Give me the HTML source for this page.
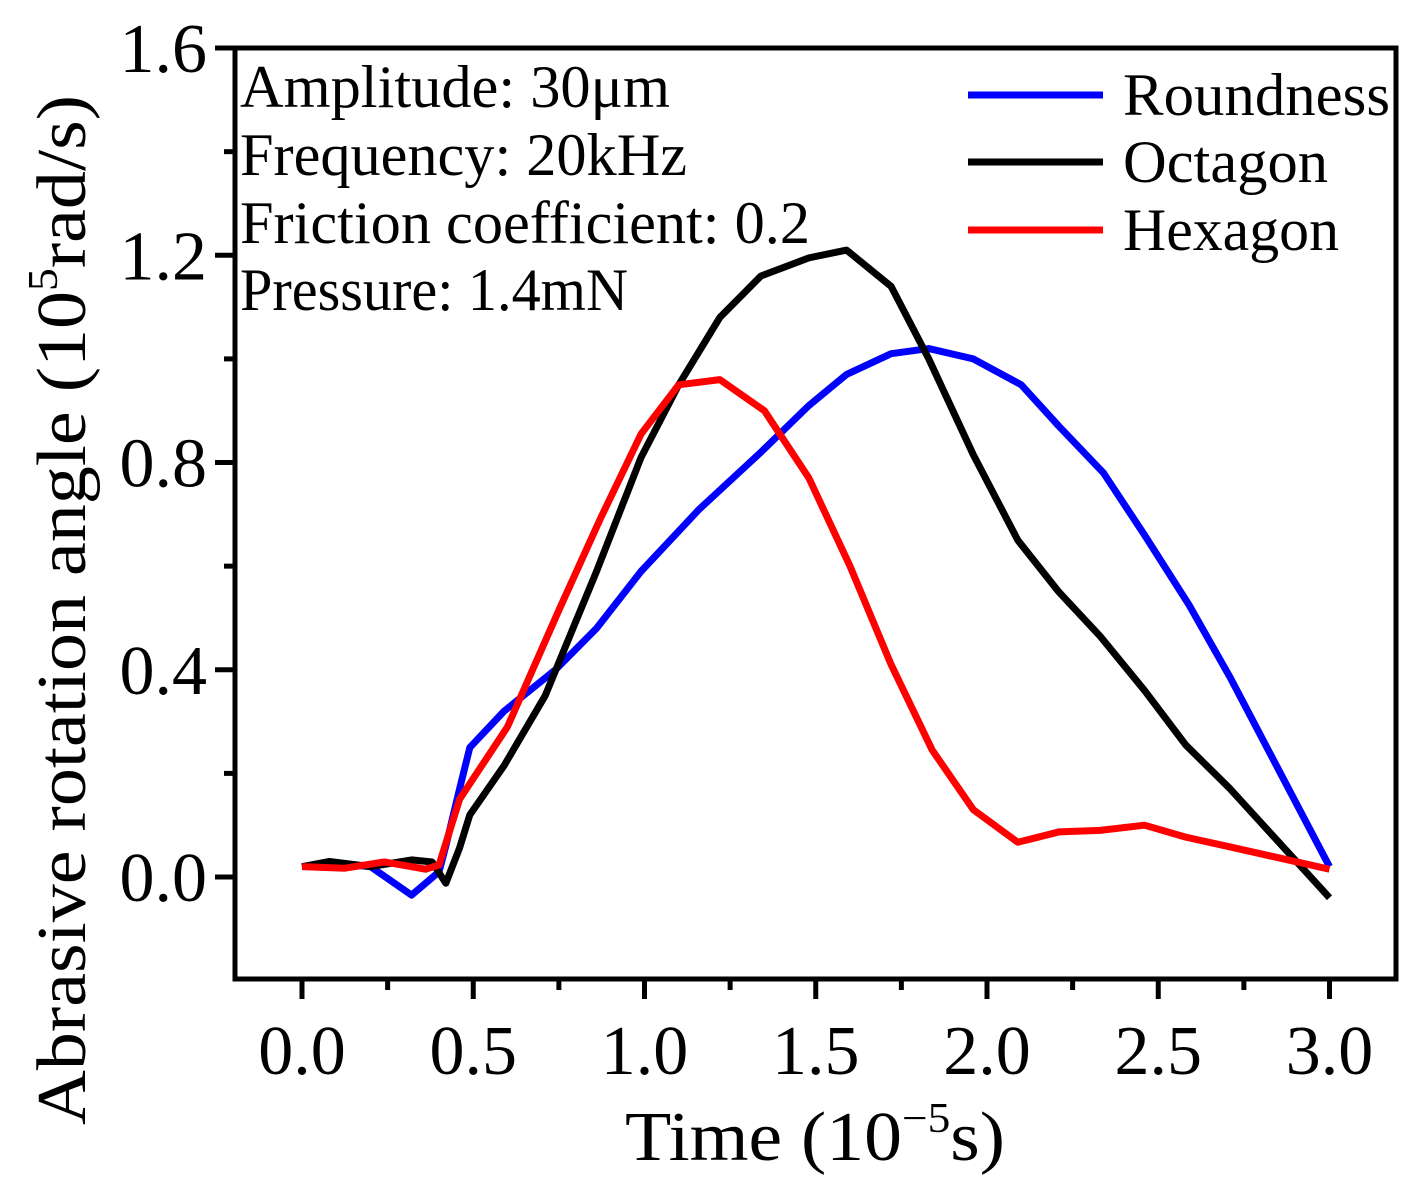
<!DOCTYPE html>
<html><head><meta charset="utf-8"><style>
body{margin:0;background:#fff}
svg, svg text{font-family:"Liberation Serif","Times New Roman",serif}
</style></head><body>
<svg id="chart" width="1424" height="1194" viewBox="0 0 1424 1194" font-family="Liberation Serif, serif">
<g id="marks"></g>
<rect x="235" y="48" width="1161" height="931" fill="none" stroke="#000" stroke-width="5"/>
<g id="axes"></g>
<g font-size="60">
<text x="240" y="107" textLength="430" lengthAdjust="spacingAndGlyphs">Amplitude: 30μm</text>
<text x="240" y="175" textLength="447" lengthAdjust="spacingAndGlyphs">Frequency: 20kHz</text>
<text x="240" y="243" textLength="570" lengthAdjust="spacingAndGlyphs">Friction coefficient: 0.2</text>
<text x="240" y="310" textLength="388" lengthAdjust="spacingAndGlyphs">Pressure: 1.4mN</text>
</g>
<g font-size="60">
<line x1="968" y1="95" x2="1103" y2="95" stroke="#0000ff" stroke-width="7"/>
<text x="1123" y="115" textLength="267" lengthAdjust="spacingAndGlyphs">Roundness</text>
<line x1="968" y1="162" x2="1103" y2="162" stroke="#000" stroke-width="7"/>
<text x="1123" y="182" textLength="205" lengthAdjust="spacingAndGlyphs">Octagon</text>
<line x1="968" y1="230" x2="1103" y2="230" stroke="#ff0000" stroke-width="7"/>
<text x="1123" y="250" textLength="216" lengthAdjust="spacingAndGlyphs">Hexagon</text>
</g>
<text x="815" y="1160" font-size="70" text-anchor="middle" textLength="380" lengthAdjust="spacingAndGlyphs">Time (10<tspan dy="-28" font-size="42">−5</tspan><tspan dy="28">s)</tspan></text>
<text transform="translate(85,610) rotate(-90)" font-size="70" text-anchor="middle" textLength="1030" lengthAdjust="spacingAndGlyphs">Abrasive rotation angle (10<tspan dy="-28" font-size="42">5</tspan><tspan dy="28">rad/s)</tspan></text>
</svg>
<script>
const xTicks=[0,0.5,1.0,1.5,2.0,2.5,3.0];
const xTickLabels=["0.0","0.5","1.0","1.5","2.0","2.5","3.0"];
const yTicks=[0,0.4,0.8,1.2,1.6];
const yTickLabels=["0.0","0.4","0.8","1.2","1.6"];
const roundX=[0,0.08,0.2,0.32,0.4,0.42,0.46,0.49,0.59,0.74,0.86,0.99,1.16,1.34,1.48,1.59,1.72,1.83,1.96,2.10,2.21,2.34,2.46,2.59,2.71,3.0];
const roundY=[0.02,0.027,0.02,-0.035,0.01,0.06,0.17,0.25,0.32,0.40,0.48,0.59,0.71,0.82,0.91,0.97,1.01,1.02,1.0,0.95,0.87,0.78,0.66,0.525,0.385,0.02];
const octX=[0,0.08,0.2,0.32,0.38,0.42,0.46,0.49,0.59,0.71,0.86,0.99,1.1,1.22,1.34,1.48,1.59,1.72,1.83,1.96,2.09,2.21,2.33,2.46,2.58,2.71,3.0];
const octY=[0.02,0.03,0.02,0.033,0.029,-0.012,0.056,0.12,0.215,0.35,0.59,0.81,0.95,1.08,1.16,1.195,1.21,1.14,1.0,0.815,0.65,0.55,0.465,0.36,0.255,0.17,-0.04];
const hexX=[0,0.125,0.24,0.32,0.36,0.40,0.46,0.49,0.6,0.75,0.87,0.99,1.1,1.22,1.35,1.48,1.6,1.72,1.84,1.96,2.09,2.21,2.33,2.46,2.58,2.71,3.0];
const hexY=[0.02,0.017,0.029,0.02,0.015,0.023,0.15,0.18,0.29,0.515,0.69,0.855,0.95,0.96,0.90,0.77,0.60,0.41,0.245,0.13,0.067,0.087,0.09,0.10,0.077,0.058,0.015];

const NS="http://www.w3.org/2000/svg";
const sx=v=>302+v*342.5;
const sy=v=>877-v*518.1;
const marks=document.getElementById('marks');
const axes=document.getElementById('axes');
function series(xs,ys,color,name){
  const p=document.createElementNS(NS,'polyline');
  p.setAttribute('points',xs.map((x,i)=>sx(x)+','+sy(ys[i])).join(' '));
  p.setAttribute('fill','none');p.setAttribute('stroke',color);
  p.setAttribute('stroke-width','7');p.setAttribute('stroke-linejoin','round');
  
  
  marks.appendChild(p);
}
series(roundX,roundY,'#0000ff','roundness-line');
series(octX,octY,'#000000','octagon-line');
series(hexX,hexY,'#ff0000','hexagon-line');
function line(x1,y1,x2,y2){
  const l=document.createElementNS(NS,'line');
  l.setAttribute('x1',x1);l.setAttribute('y1',y1);l.setAttribute('x2',x2);l.setAttribute('y2',y2);
  l.setAttribute('stroke','#000');l.setAttribute('stroke-width','5');
  
  
  axes.appendChild(l);
}
function label(x,y,t,anchor,name){
  const e=document.createElementNS(NS,'text');
  e.setAttribute('x',x);e.setAttribute('y',y);e.setAttribute('font-size','70');
  e.setAttribute('text-anchor',anchor);e.textContent=t;
  
  
  axes.appendChild(e);
}
xTicks.forEach((v,i)=>{line(sx(v),979,sx(v),999);label(sx(v),1074,xTickLabels[i],'middle','x-tick-label');
  if(i<xTicks.length-1){line(sx(v+0.25),979,sx(v+0.25),990);}});
yTicks.forEach((v,i)=>{line(215,sy(v),235,sy(v));label(207,sy(v)+24,yTickLabels[i],'end','y-tick-label');
  if(i<yTicks.length-1){line(224,sy(v+0.2),235,sy(v+0.2));}});
</script>
</body></html>
